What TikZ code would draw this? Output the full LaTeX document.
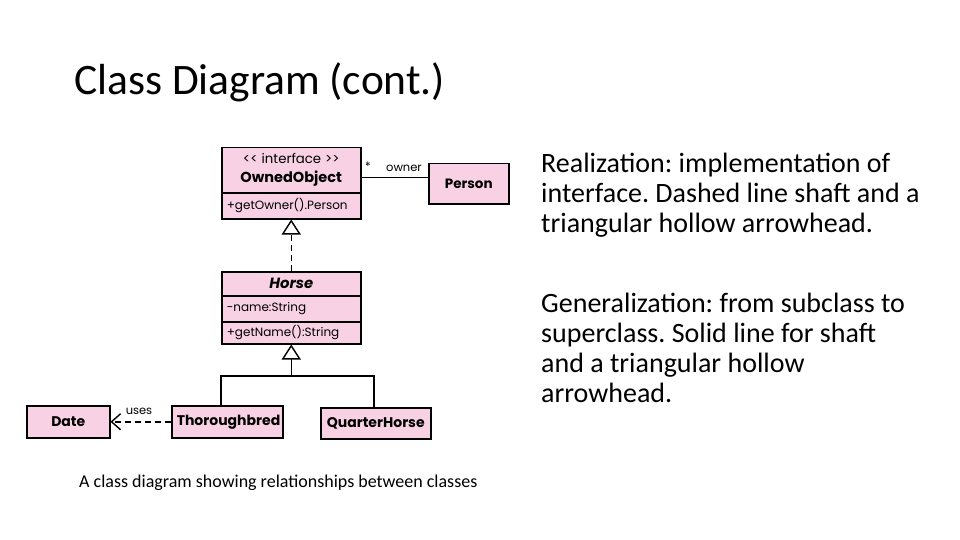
\documentclass[tikz,border=0pt]{standalone}
\usepackage{fontspec}
\setmainfont{Carlito}
\newfontfamily\umlfont{Poppins}
\usetikzlibrary{arrows.meta}
\definecolor{umlpink}{RGB}{248,210,228}
\frenchspacing
\begin{document}
\begin{tikzpicture}[x=1pt,y=-1pt,
  box/.style={draw, fill=umlpink, line width=1.5pt, inner xsep=5pt, inner ysep=0pt,
    anchor=north west, font=\umlfont\fontsize{12}{14}\selectfont},
  lbox/.style={box, align=left, text width=#1},
  cbox/.style={box, align=center, text width=#1},
  bold/.style={font=\umlfont\bfseries\fontsize{#1}{16}\selectfont},
  bold/.default=14,
  conn/.style={line width=1.5pt},
  realize/.style={conn, dashed, dash pattern=on 6pt off 4pt, -{Triangle[open, length=15pt, width=19pt, line width=1.4pt]}},
  general/.style={conn, -{Triangle[open, length=15pt, width=19pt, line width=1.4pt]}},
  usesdep/.style={conn, dashed, dash pattern=on 6pt off 4pt, -{Straight Barb[length=9pt, width=16pt, line width=1.4pt]}},
  lab/.style={font=\umlfont\fontsize{11.5}{13}\selectfont, inner sep=0pt},
  slidetext/.style={font=\fontsize{28}{30}\selectfont, align=left, anchor=base west, inner sep=0pt}
]
\useasboundingbox (0,0) rectangle (960,540);

% title
\node[font=\fontsize{43.5}{50}\selectfont, anchor=base west, inner sep=0pt] (title) at (74,95) {Class Diagram (cont.)};

% OwnedObject
\node[cbox=129pt, minimum height=45pt] (oo1) at (221,147)
  {{\fontsize{13.3}{14}\selectfont <{}< interface >{}>}\\[5pt]{\bfseries\fontsize{14.5}{15}\selectfont OwnedObject}};
\node[lbox=129pt, minimum height=26pt] (oo2) at (221,192) {+getOwner().Person};

% Person
\node[cbox=70pt, minimum height=40pt, bold=13.5] (person) at (428,163) {Person};

% Horse
\node[cbox=129pt, minimum height=24pt, bold=14.8] (h1) at (221,271) {\itshape Horse};
\node[lbox=129pt, minimum height=26pt] (h2) at (221,295) {-name:String};
\node[lbox=129pt, minimum height=22pt] (h3) at (221,321) {+getName():String};

% subclasses
\node[cbox=101pt, minimum height=32pt, bold] (tb) at (171,405) {Thoroughbred};
\node[cbox=100pt, minimum height=31pt, bold] (qh) at (320,407) {QuarterHorse};
\node[cbox=73pt, minimum height=32pt, bold] (date) at (26,405) {Date};

% association
\draw[conn] ([yshift=-7.5pt]oo1.east) -- ([yshift=6pt]person.west);
\node[lab, anchor=center] (star) at (368,166) {*};
\node[lab, anchor=west] (owner) at (386,168) {owner};

% realization
\draw[realize] (h1.north) -- (oo2.south);

% generalization
\coordinate (j1) at (221,376);
\coordinate (j2) at (374,376);
\coordinate (jm) at (h3.south |- j1);
\draw[conn] (tb.north -| j1) -- (j1) -- (j2) -- (qh.north -| j2);
\draw[general] (jm) -- (h3.south);

% uses
\draw[usesdep] (tb.west) -- (date.east);
\node[lab, anchor=base] (uses) at (139,414) {uses};

% right text
\node[slidetext] (real) at (541,232) {Realization: implementation of\\interface. Dashed line shaft and a\\triangular hollow arrowhead.};
\node[slidetext] (gen) at (541,402) {Generalization: from subclass to\\superclass. Solid line for shaft\\and a triangular hollow\\arrowhead.};

% caption
\node[font=\fontsize{18}{21}\selectfont, anchor=base west, inner sep=0pt] (cap) at (79,487) {A class diagram showing relationships between classes};
\end{tikzpicture}
\end{document}
